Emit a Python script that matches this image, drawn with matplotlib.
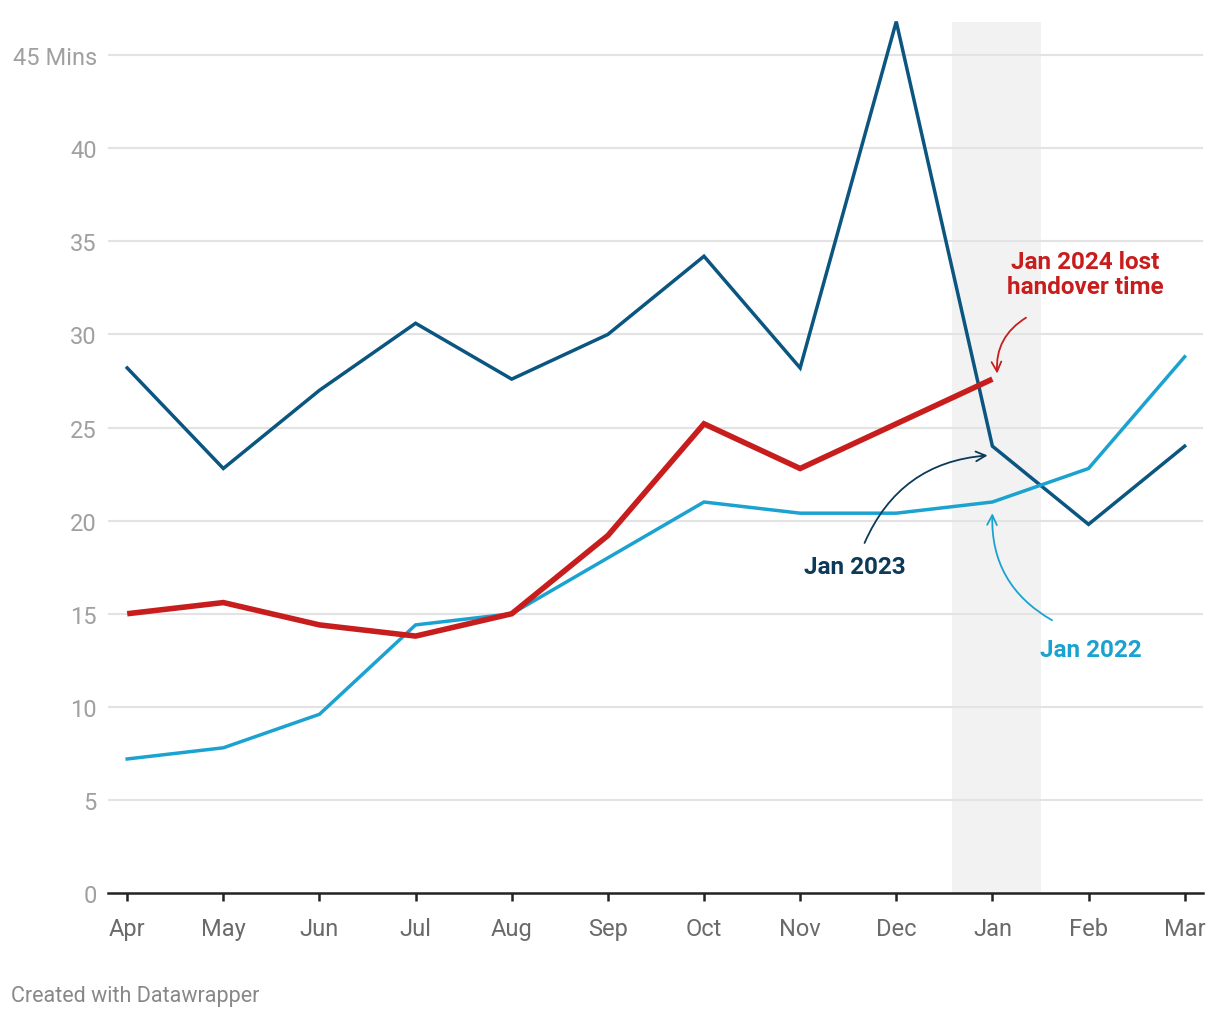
import numpy as np
import matplotlib
matplotlib.use("Agg")
import matplotlib.pyplot as plt

plt.rcParams['font.family'] = ['Roboto', 'DejaVu Sans']

# Data
months = ['Apr', 'May', 'Jun', 'Jul', 'Aug', 'Sep', 'Oct', 'Nov', 'Dec', 'Jan', 'Feb', 'Mar']
y2022 = [7.2, 7.8, 9.6, 14.4, 15.0, 18.0, 21.0, 20.4, 20.4, 21.0, 22.8, 28.8]
y2023 = [28.2, 22.8, 27.0, 30.6, 27.6, 30.0, 34.2, 28.2, 46.8, 24.0, 19.8, 24.0]
y2024 = [15.0, 15.6, 14.4, 13.8, 15.0, 19.2, 25.2, 22.8, 25.2, 27.6]
yticks = [0, 5, 10, 15, 20, 25, 30, 35, 40, 45]
ytick_labels = ['0', '5', '10', '15', '20', '25', '30', '35', '40', '45 Mins']

c_dark = '#0b5680'
c_light = '#1ba2d0'
c_red = '#c71e1d'
c_dark_txt = '#0c3a58'

fig = plt.figure(figsize=(12.2, 10.2), dpi=100)
ax = fig.add_axes([0.0885, 0.1235, 0.8975, 0.8598])

x = np.arange(len(months))
ax.axvspan(8.58, 9.51, ymin=0, ymax=46.8 / 47.1, color='#f2f2f2', zorder=0, lw=0)

for yv in yticks[1:]:
    ax.axhline(yv, color='#e3e3e3', lw=1.5, zorder=1)

ax.plot(x, y2023, color=c_dark, lw=2.5, zorder=3, solid_joinstyle='miter')
ax.plot(x, y2022, color=c_light, lw=2.5, zorder=3, solid_joinstyle='miter')
ax.plot(x[:len(y2024)], y2024, color=c_red, lw=4.0, zorder=4,
        solid_joinstyle='miter', solid_capstyle='butt')

ax.set_xlim(-0.2, 11.19)
ax.set_ylim(0, 47.1)

for s in ['top', 'right', 'left']:
    ax.spines[s].set_visible(False)
ax.spines['bottom'].set_color('#222222')
ax.spines['bottom'].set_linewidth(1.8)
ax.spines['bottom'].set_zorder(5)

ax.set_xticks(x)
ax.set_xticklabels(months)
ax.tick_params(axis='x', length=6, width=1.8, color='#222222', labelsize=17,
               labelcolor='#6a6a6a', pad=11)
ax.set_yticks(yticks)
ax.set_yticklabels(ytick_labels)
ax.tick_params(axis='y', length=0, labelsize=17, labelcolor='#a0a0a0', pad=8)

# Annotations
ax.text(9.97, 33.25, 'Jan 2024 lost\nhandover time', color=c_red, fontsize=17.5,
        fontweight='bold', ha='center', va='center', linespacing=1.12)
ax.annotate('', xy=(9.05, 27.9), xytext=(9.35, 30.9),
            arrowprops=dict(arrowstyle='->,head_length=0.7,head_width=0.35',
                            color=c_red, lw=1.3, connectionstyle='arc3,rad=0.3',
                            shrinkA=0, shrinkB=0))

ax.text(7.57, 17.55, 'Jan 2023', color=c_dark_txt, fontsize=17.5,
        fontweight='bold', ha='center', va='center')
ax.annotate('', xy=(8.95, 23.5), xytext=(7.67, 18.8),
            arrowprops=dict(arrowstyle='->,head_length=0.7,head_width=0.35',
                            color=c_dark_txt, lw=1.3, connectionstyle='arc3,rad=-0.3',
                            shrinkA=0, shrinkB=0))

ax.text(10.02, 13.1, 'Jan 2022', color=c_light, fontsize=17.5,
        fontweight='bold', ha='center', va='center')
ax.annotate('', xy=(9.0, 20.4), xytext=(9.62, 14.65),
            arrowprops=dict(arrowstyle='->,head_length=0.7,head_width=0.35',
                            color=c_light, lw=1.3, connectionstyle='arc3,rad=-0.3',
                            shrinkA=0, shrinkB=0))

fig.text(11 / 1220, 1 - 997 / 1020, 'Created with Datawrapper', color='#888888',
         fontsize=15.5, ha='left', va='center')

fig.savefig('out.png', dpi=100)
